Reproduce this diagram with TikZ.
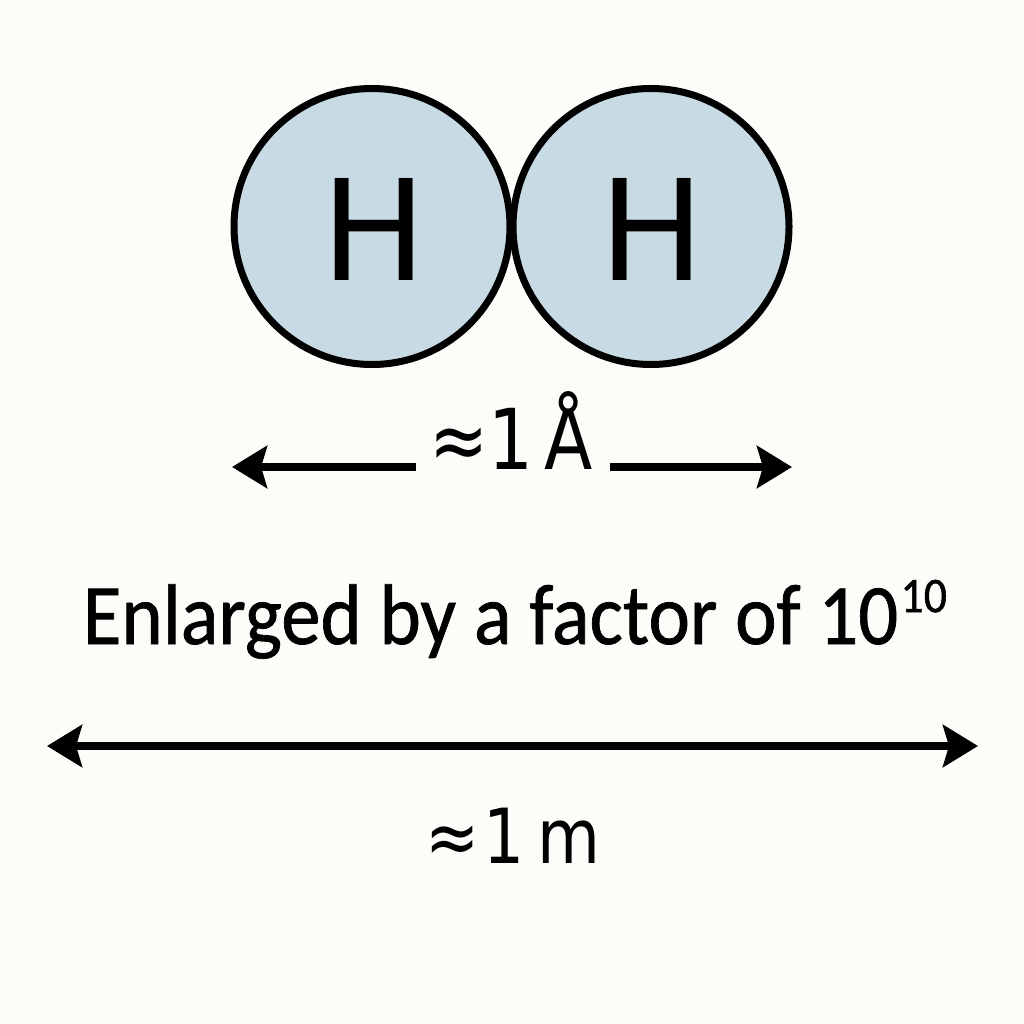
\documentclass[tikz,border=0pt]{standalone}
\usepackage{fontspec}
\setmainfont{DejaVu Sans}
\newfontfamily\carl[FakeBold=0.9]{Carlito}
\usetikzlibrary{arrows.meta}
\definecolor{bgc}{RGB}{252,252,249}
\definecolor{atomfill}{RGB}{200,219,229}
\tikzset{
  atom/.style={circle, draw=black, line width=7pt, fill=atomfill, minimum size=276pt, inner sep=0pt},
  elem/.style={anchor=base, inner sep=0pt, font=\fontsize{140}{140}\selectfont},
  dimlbl/.style={anchor=base, inner sep=0pt, font=\fontsize{80}{80}\selectfont},
  dimline/.style={line width=7.5pt, -{Stealth[length=35pt,width=42pt,inset=6pt]}},
  dimboth/.style={line width=7.5pt, {Stealth[length=35pt,width=42pt,inset=6pt]}-{Stealth[length=35pt,width=42pt,inset=6pt]}},
  caption/.style={anchor=base, inner sep=0pt}
}
\begin{document}
\begin{tikzpicture}[x=1pt,y=-1pt]
\fill[bgc] (0,0) rectangle (1024,1024);
\useasboundingbox (0,0) rectangle (1024,1024);
% atoms
\node[atom] (a1) at (372,226.5) {};
\node[atom] (a2) at (651,226.5) {};
\node[elem] (h1) at (374,280) {H};
\node[elem] (h2) at (652,280) {H};
% small dimension
\node[dimlbl] (lblA) at (511,469) {\fontsize{84}{84}\selectfont\scalebox{0.84}[1]{≈1\kern0.16em Å}};
\coordinate (l1) at (416,467);
\coordinate (tl) at (232,467);
\coordinate (r1) at (610,467);
\coordinate (tr) at (792,467);
\draw[dimline] (l1) -- (tl);
\draw[dimline] (r1) -- (tr);
% caption
\node[caption] (cap) at (515,644) {\scalebox{0.915}[1]{\carl\fontsize{86}{86}\selectfont Enlarged by a factor of 10\kern0.03em\raisebox{0.37em}{\fontsize{50}{50}\selectfont 10}}};
% big dimension
\coordinate (m1) at (47,746);
\coordinate (m2) at (978,746);
\draw[dimboth] (m1) -- (m2);
\node[dimlbl] (lblm) at (513,863) {\fontsize{76}{76}\selectfont\scalebox{0.85}[1]{≈\kern0.05em1\kern0.2em m}};
\end{tikzpicture}
\end{document}
